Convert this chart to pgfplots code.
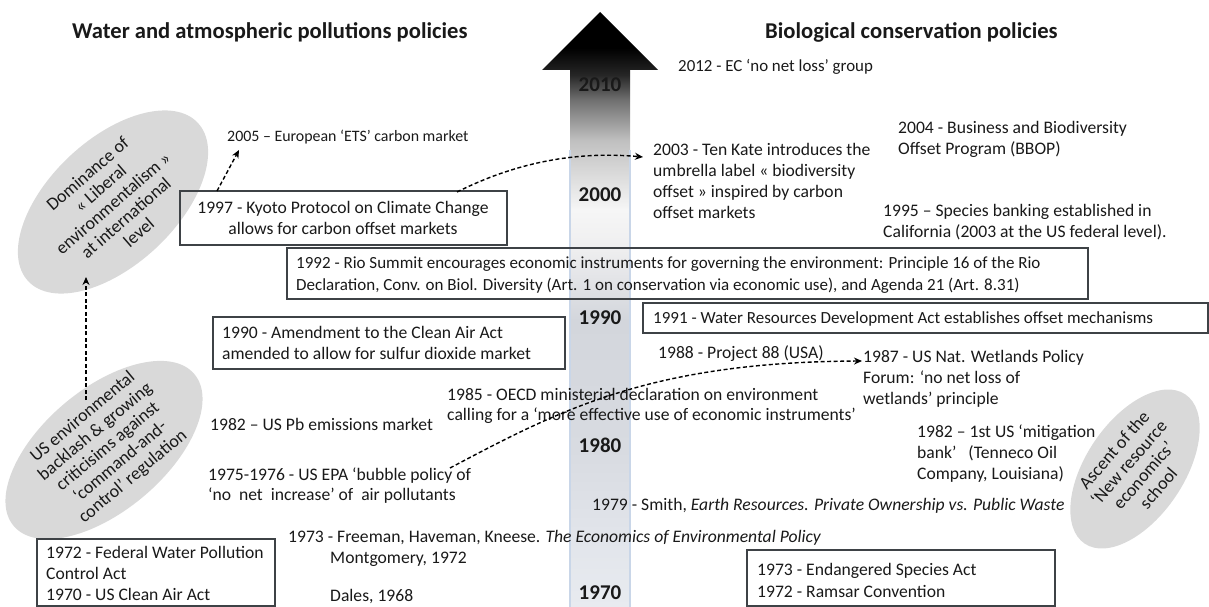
\documentclass[border=0pt]{standalone}
\usepackage{pgfplots}
\pgfplotsset{compat=1.18}
\usepackage{fontspec}
\setmainfont{Carlito}
\usetikzlibrary{shapes.geometric, arrows.meta}

\definecolor{boxc}{HTML}{3E4246}
\definecolor{ellc}{HTML}{D9D9D9}
\definecolor{edgec}{HTML}{C9D6E8}
\definecolor{sA}{HTML}{E8EBF0}
\definecolor{sB}{HTML}{E2E5EB}
\definecolor{sC}{HTML}{D8DBE1}
\definecolor{sD}{HTML}{D3D6DC}
\definecolor{sE}{HTML}{EEEEEF}
\definecolor{sF}{HTML}{F6F6F6}
\definecolor{sG}{HTML}{C0C0C0}
\definecolor{sH}{HTML}{707070}
\definecolor{sI}{HTML}{262626}
\pgfdeclareverticalshading{arrowshade}{100bp}{color(0bp)=(sA); color(25bp)=(sA); color(30.6bp)=(sB); color(38.2bp)=(sC); color(49.1bp)=(sD); color(55bp)=(sE); color(58.4bp)=(sF); color(64.2bp)=(sG); color(67.6bp)=(sH); color(69.7bp)=(sI); color(72bp)=(black); color(100bp)=(black)}

\tikzset{
  ellnode/.style={ellipse, fill=ellc, draw=none, inner sep=0pt},
  elltext/.style={align=center, inner sep=0pt, font=\fontsize{18}{19.5}\selectfont},
  dasharrow/.style={black, line width=1.4pt, dash pattern=on 4pt off 2.5pt, -{Stealth[length=8pt,width=7pt]}},
  boxline/.style={draw=boxc, line width=1.4pt}
}

\newcommand{\T}[3]{\node[anchor=base west, inner sep=0pt] at (axis cs:#1,#2) {#3};}
\newcommand{\Ts}[4]{\node[anchor=base west, inner sep=0pt, font=\fontsize{#1}{21}\selectfont] at (axis cs:#2,#3) {#4};}
\newcommand{\Y}[3]{\node[anchor=base, inner sep=0pt, font=\bfseries\fontsize{21}{24}\selectfont] at (axis cs:#1,#2) {#3};}

\begin{document}
\begin{tikzpicture}[every node/.append style={font=\fontsize{17.6}{21.5}\selectfont, text=black!90}]
\begin{axis}[
  hide axis, scale only axis, width=1209pt, height=607pt,
  xmin=0, xmax=1209, ymin=0, ymax=607, y dir=reverse, clip=false
]
% timeline arrow
\addplot[draw=none, shade, shading=arrowshade] coordinates {(570,607) (570,70) (542,70) (600,12) (658,70) (630,70) (630,607)} -- cycle;
\addplot[edgec, line width=1.4pt] coordinates {(570,150) (570,607)};
\addplot[edgec, line width=1.4pt] coordinates {(630,150) (630,607)};

% year labels on the arrow
\Y{600}{92}{2010}
\Y{600}{201}{2000}
\Y{600}{324}{1990}
\Y{600}{452}{1980}
\Y{600}{599}{1970}

% ellipses
\node[ellnode, minimum width=232pt, minimum height=126pt, rotate=43] at (axis cs:113,202) {};
\node[ellnode, minimum width=236pt, minimum height=122pt, rotate=40] at (axis cs:104,450) {};
\node[ellnode, minimum width=180pt, minimum height=98pt, rotate=56] at (axis cs:1135,469) {};
\node[elltext, rotate=41] at (axis cs:113,203) {Dominance of\\« Liberal\\environmentalism »\\at international\\level};
\node[elltext, rotate=40] at (axis cs:108,447) {US environmental\\backlash \& growing\\criticisims against\\‘command-and-\\control’ regulation};
\node[elltext, rotate=49] at (axis cs:1136,469) {Ascent of the\\‘New resource\\economics’\\school};

% titles
\node[anchor=base west, inner sep=0pt, font=\bfseries\fontsize{22.6}{26}\selectfont] at (axis cs:72,39) {Water and atmospheric pollutions policies};
\node[anchor=base west, inner sep=0pt, font=\bfseries\fontsize{22.6}{26}\selectfont] at (axis cs:765,39) {Biological conservation policies};

% boxes
\addplot[boxline] coordinates {(180,191) (507,191) (507,245) (180,245)} -- cycle;
\addplot[boxline] coordinates {(287,248) (1088,248) (1088,299) (287,299)} -- cycle;
\addplot[boxline] coordinates {(213,317) (565,317) (565,369) (213,369)} -- cycle;
\addplot[boxline] coordinates {(643,303) (1208,303) (1208,333) (643,333)} -- cycle;
\addplot[boxline] coordinates {(37,539) (275,539) (275,606) (37,606)} -- cycle;
\addplot[boxline] coordinates {(747,550) (1055,550) (1055,606) (747,606)} -- cycle;

% right column
\Ts{16.9}{678}{72}{2012 - EC ‘no net loss’ group}
\T{653}{155}{2003 - Ten Kate introduces the}
\T{653}{176}{umbrella label « biodiversity}
\T{653}{197}{offset » inspired by carbon}
\T{653}{218}{offset markets}
\T{898}{133}{2004 - Business and Biodiversity}
\T{898}{154}{Offset Program (BBOP)}
\T{883}{216}{1995 – Species banking established in}
\T{883}{237}{California (2003 at the US federal level).}
\Ts{17}{653}{323}{1991 - Water Resources Development Act establishes offset mechanisms}
\T{658}{358}{1988 - Project 88 (USA)}
\T{863}{362}{1987 - US Nat. Wetlands Policy}
\T{863}{383}{Forum: ‘no net loss of}
\T{863}{404}{wetlands’ principle}
\T{917}{437}{1982 – 1st US ‘mitigation}
\T{917}{458}{bank’ \ \ (Tenneco Oil}
\T{917}{479}{Company, Louisiana)}
\T{592}{510}{1979 - Smith, \textit{Earth Resources. Private Ownership vs. Public Waste}}
\T{757}{575}{1973 - Endangered Species Act}
\T{757}{597}{1972 - Ramsar Convention}

% left column
\Ts{15.9}{227}{142}{2005 – European ‘ETS’ carbon market}
\node[anchor=base, inner sep=0pt] at (axis cs:343,213) {1997 - Kyoto Protocol on Climate Change};
\node[anchor=base, inner sep=0pt] at (axis cs:343,234) {allows for carbon offset markets};
\Ts{17}{296}{268}{1992 - Rio Summit encourages economic instruments for governing the environment: Principle 16 of the Rio}
\Ts{17}{296}{290}{Declaration, Conv. on Biol. Diversity (Art. 1 on conservation via economic use), and Agenda 21 (Art. 8.31)}
\T{222}{338}{1990 - Amendment to the Clean Air Act}
\T{222}{359}{amended to allow for sulfur dioxide market}
\T{447}{400}{1985 - OECD ministerial declaration on environment}
\T{447}{420}{calling for a ‘more effective use of economic instruments’}
\T{210}{430}{1982 – US Pb emissions market}
\T{208}{480}{1975-1976 - US EPA ‘bubble policy of}
\T{208}{500}{‘no\ \ net\ \ increase’\ of\ \ air pollutants}
\T{288}{542}{1973 - Freeman, Haveman, Kneese. \textit{The Economics of Environmental Policy}}
\T{330}{563}{Montgomery, 1972}
\T{330}{601}{Dales, 1968}
\T{46}{558}{1972 - Federal Water Pollution}
\T{46}{579}{Control Act}
\T{46}{600}{1970 - US Clean Air Act}

% dashed connectors
\draw[dasharrow] (axis cs:217,191) -- (axis cs:239,150);
\draw[dasharrow] (axis cs:457,192) .. controls (axis cs:505,168) and (axis cs:565,150) .. (axis cs:643,157);
\draw[dasharrow] (axis cs:86,400) -- (axis cs:86,277);
\draw[dasharrow] (axis cs:450,468) .. controls (axis cs:560,410) and (axis cs:650,362) .. (axis cs:862,361);
\end{axis}
\pgfresetboundingbox
\path (current axis.south west) rectangle (current axis.north east);
\end{tikzpicture}
\end{document}
